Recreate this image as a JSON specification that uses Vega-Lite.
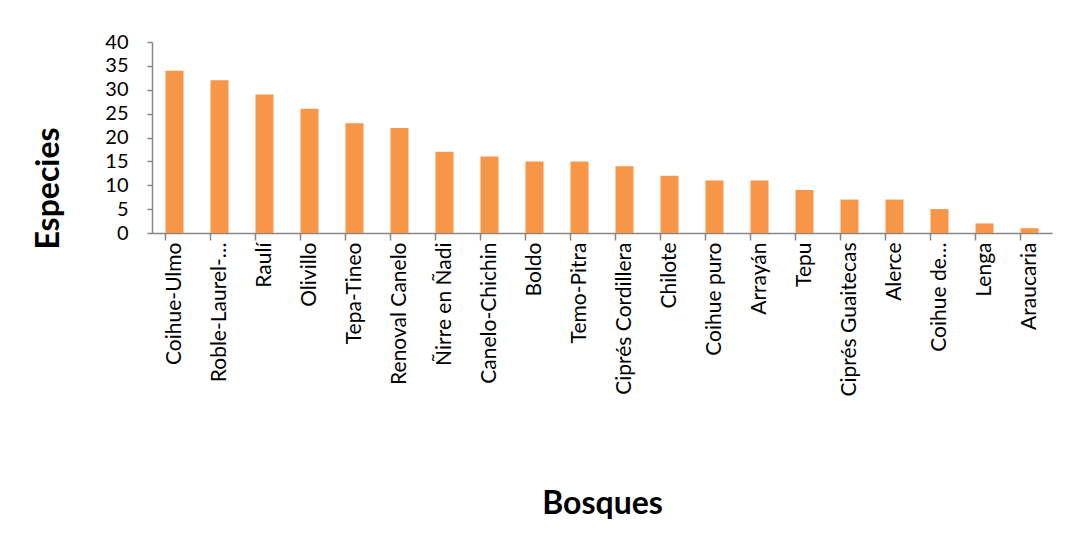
{
  "$schema": "https://vega.github.io/schema/vega-lite/v6.json",
  "autosize": {"type": "none"},
  "padding": {"left": 152, "top": 42, "right": 23, "bottom": 323},
  "width": 900,
  "height": 191,
  "background": "white",
  "config": {
    "view": {"stroke": null},
    "font": "Lato",
    "axis": {"grid": false, "domainColor": "#868686", "tickColor": "#868686", "domainWidth": 1.5, "tickWidth": 1.5, "labelColor": "#000000", "titleColor": "#000000", "labelFont": "Lato", "titleFont": "Lato"}
  },
  "data": {"values": [
    {"bosque": "Coihue-Ulmo", "especies": 34},
    {"bosque": "Roble-Laurel-…", "especies": 32},
    {"bosque": "Raulí", "especies": 29},
    {"bosque": "Olivillo", "especies": 26},
    {"bosque": "Tepa-Tineo", "especies": 23},
    {"bosque": "Renoval Canelo", "especies": 22},
    {"bosque": "Ñirre en Ñadi", "especies": 17},
    {"bosque": "Canelo-Chichin", "especies": 16},
    {"bosque": "Boldo", "especies": 15},
    {"bosque": "Temo-Pitra", "especies": 15},
    {"bosque": "Ciprés Cordillera", "especies": 14},
    {"bosque": "Chilote", "especies": 12},
    {"bosque": "Coihue puro", "especies": 11},
    {"bosque": "Arrayán", "especies": 11},
    {"bosque": "Tepu", "especies": 9},
    {"bosque": "Ciprés Guaitecas", "especies": 7},
    {"bosque": "Alerce", "especies": 7},
    {"bosque": "Coihue de…", "especies": 5},
    {"bosque": "Lenga", "especies": 2},
    {"bosque": "Araucaria", "especies": 1}
  ]},
  "layer": [
    {
      "mark": {"type": "bar", "color": "#F79646"},
      "encoding": {
        "x": {"field": "bosque", "type": "nominal", "sort": null,
              "scale": {"paddingInner": 0.6, "paddingOuter": 0.3},
              "axis": {"orient": "bottom", "labelAngle": -90, "labelFontSize": 21, "labelPadding": 9, "ticks": false, "labelLimit": 300,
                       "title": "Bosques", "titleFontSize": 32, "titleFontWeight": "bold", "titleBaseline": "middle", "titleX": 450, "titleY": 270}},
        "y": {"field": "especies", "type": "quantitative",
              "scale": {"domain": [0, 40], "nice": false},
              "axis": {"values": [0,5,10,15,20,25,30,35,40], "tickSize": 5, "labelFontSize": 20, "labelPadding": 19,
                       "title": "Especies", "titleFontSize": 32, "titleFontWeight": "bold", "titleBaseline": "middle", "titleAngle": -90, "titleX": -104, "titleY": 146}}
      }
    },
    {
      "mark": {"type": "rule", "opacity": 0},
      "encoding": {
        "x": {"field": "bosque", "type": "nominal", "sort": null,
              "axis": {"orient": "bottom", "labels": false, "title": null, "bandPosition": 0, "ticks": true, "tickSize": 7, "tickColor": "#868686", "domain": false}}
      }
    }
  ],
  "resolve": {"axis": {"x": "independent"}}
}
